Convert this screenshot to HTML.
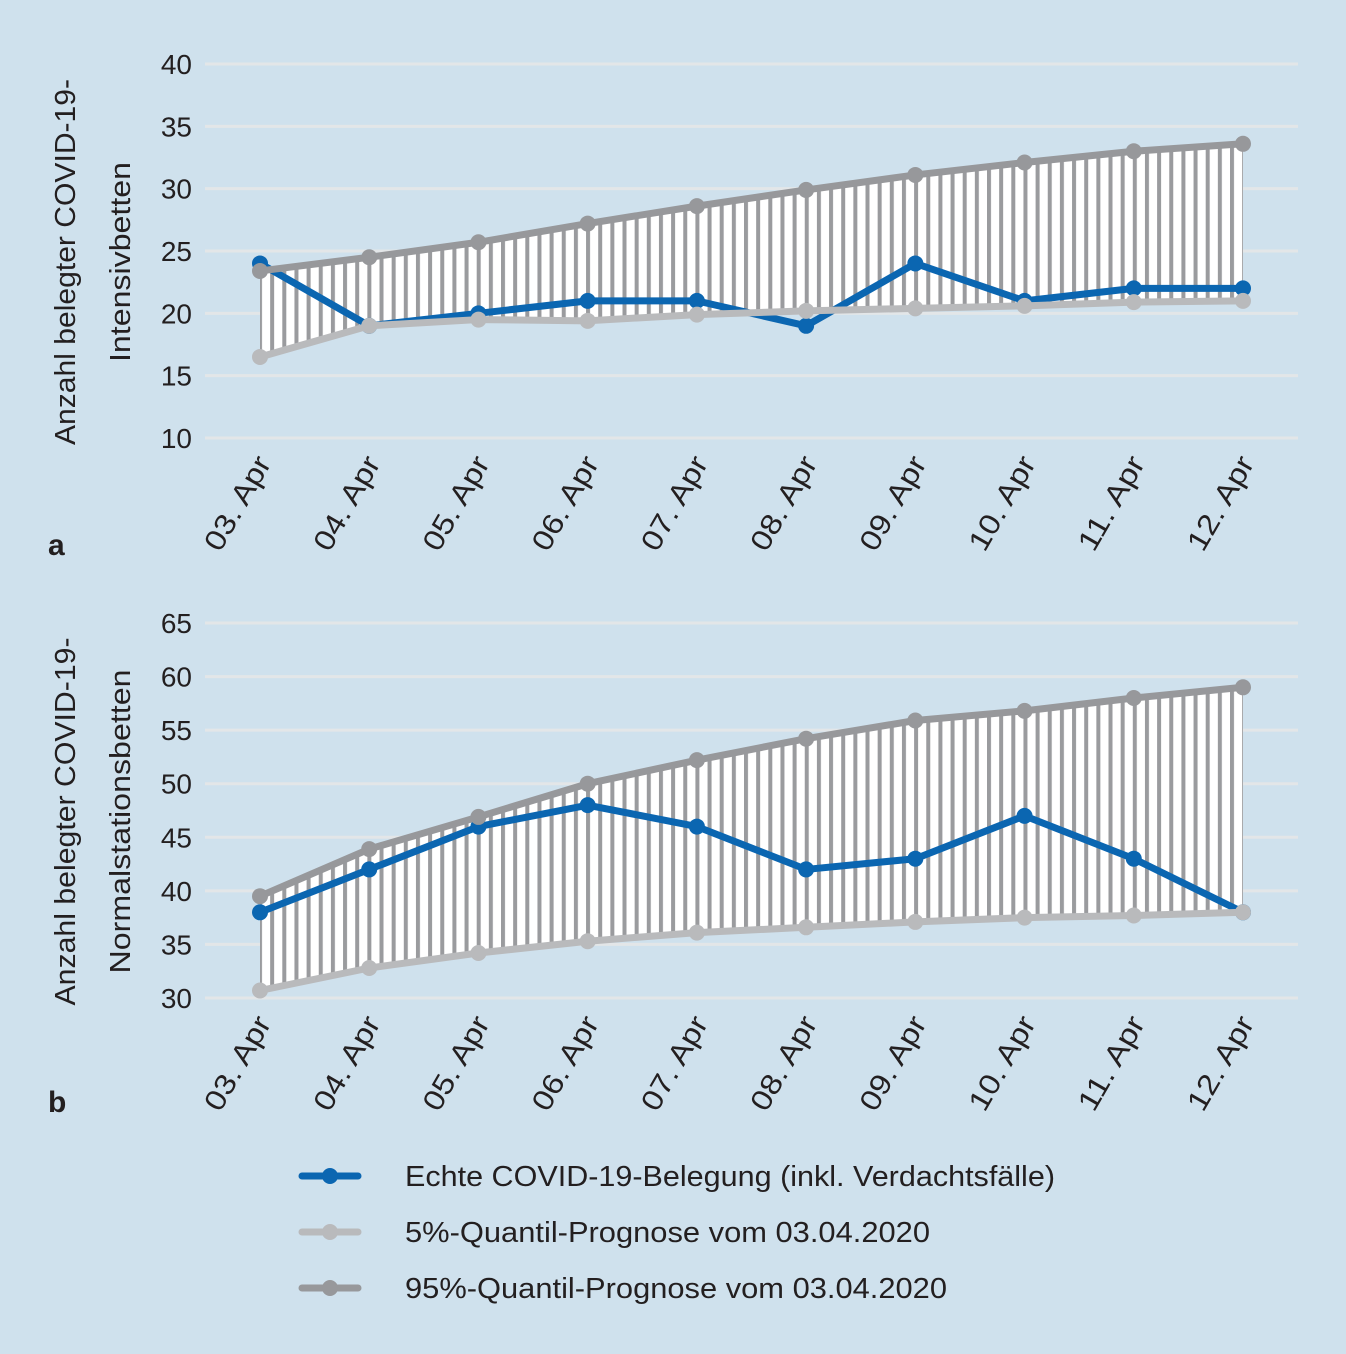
<!DOCTYPE html>
<html><head><meta charset="utf-8"><style>
html,body{margin:0;padding:0;background:#cfe1ed;}
svg{display:block;font-family:"Liberation Sans",sans-serif;}
</style></head><body>
<svg id="c" width="1346" height="1354" viewBox="0 0 1346 1354">
<defs>
<pattern id="hatch" patternUnits="userSpaceOnUse" width="12.15" height="10" x="258">
<rect x="0" y="0" width="12.15" height="10" fill="#ffffff"/>
<rect x="0" y="0" width="4" height="10" fill="#9a9b9e"/>
</pattern>
</defs>
</svg>
<script>
const dates=["03. Apr","04. Apr","05. Apr","06. Apr","07. Apr","08. Apr","09. Apr","10. Apr","11. Apr","12. Apr"];
const aActual=[24,19,20,21,21,19,24,21,22,22];
const aLow=[16.5,19,19.5,19.4,19.9,20.2,20.4,20.6,20.9,21];
const aHigh=[23.4,24.5,25.7,27.2,28.6,29.9,31.1,32.1,33.0,33.6];
const aTicks=[10,15,20,25,30,35,40];
const bActual=[38,42,46,48,46,42,43,47,43,38];
const bLow=[30.7,32.8,34.2,35.3,36.1,36.6,37.1,37.5,37.7,38];
const bHigh=[39.5,43.9,46.9,50,52.2,54.2,55.9,56.8,58,59];
const bTicks=[30,35,40,45,50,55,60,65];
const legendLabels=["Echte COVID-19-Belegung (inkl. Verdachtsfälle)","5%-Quantil-Prognose vom 03.04.2020","95%-Quantil-Prognose vom 03.04.2020"];
const legendLens=[650,525,542];
const BLUE="#0b66b1",LIGHT="#b9babc",DARK="#97989b";
const svg=document.getElementById('c');
const NS="http://www.w3.org/2000/svg";
function mk(t,a,p){const e=document.createElementNS(NS,t);for(const k in a)e.setAttribute(k,a[k]);(p||svg).appendChild(e);return e;}
function x(i){return 260+i*(1243-260)/(dates.length-1);}
function panel(key,actual,low,high,ticks,yTop,yBot,label1,label2,len1,len2,letter,letterY){
  const g=mk('g',{});
  
  
  const mn=ticks[0],mxv=ticks[ticks.length-1];
  const y=v=>yBot-(v-mn)/(mxv-mn)*(yBot-yTop);
  ticks.forEach(t=>{
    const l=mk('line',{x1:205,x2:1298,y1:y(t),y2:y(t),stroke:"#e3e6e8","stroke-width":3},g);
    
    
    const tx=mk('text',{x:192,y:y(t)+10,"text-anchor":"end","font-size":28,fill:"#231f20"},g);
    tx.textContent=t;
    
    
  });
  dates.forEach((d,i)=>{
    const tx=mk('text',{transform:`translate(${x(i)+12},${yBot+25}) rotate(-60)`,"text-anchor":"end","font-size":29,fill:"#231f20",textLength:104,lengthAdjust:"spacingAndGlyphs"},g);
    tx.textContent=d;
    
    
  });
  let pts=high.map((v,i)=>x(i)+','+y(v)).concat(low.map((v,i)=>x(i)+','+y(v)).reverse());
  const band=mk('polygon',{points:pts.join(' '),fill:"url(#hatch)"},g);
  
  
  [[actual,BLUE,'actual'],[low,LIGHT,'low'],[high,DARK,'high']].forEach(([arr,c,n])=>{
    const pl=mk('polyline',{points:arr.map((v,i)=>x(i)+','+y(v)).join(' '),fill:"none",stroke:c,"stroke-width":7,"stroke-linejoin":"round"},g);
    
    
    arr.forEach((v,i)=>{
      const ci=mk('circle',{cx:x(i),cy:y(v),r:8,fill:c},g);
      
      
    });
  });
  const cy=(yTop+yBot)/2+11;
  const t1=mk('text',{transform:`translate(75,${cy}) rotate(-90)`,"text-anchor":"middle","font-size":29,fill:"#231f20",textLength:len1,lengthAdjust:"spacingAndGlyphs"},g);
  t1.textContent=label1;
  
  
  const t2=mk('text',{transform:`translate(130,${cy}) rotate(-90)`,"text-anchor":"middle","font-size":29,fill:"#231f20",textLength:len2,lengthAdjust:"spacingAndGlyphs"},g);
  t2.textContent=label2;
  
  
  const lt=mk('text',{x:48,y:letterY,"font-size":30,"font-weight":"bold",fill:"#231f20"},g);
  lt.textContent=letter;
  
  
}
panel('a',aActual,aLow,aHigh,aTicks,64,438,"Anzahl belegter COVID-19-","Intensivbetten",366,200,"a",555);
panel('b',bActual,bLow,bHigh,bTicks,623,998,"Anzahl belegter COVID-19-","Normalstationsbetten",368,304,"b",1112);
const lg=mk('g',{});


[BLUE,LIGHT,DARK].forEach((c,i)=>{
  const yy=1176+i*56;
  const l=mk('line',{x1:302,x2:358,y1:yy,y2:yy,stroke:c,"stroke-width":7,"stroke-linecap":"round"},lg);
  
  
  mk('circle',{cx:330,cy:yy,r:8,fill:c},lg);
  const t=mk('text',{x:405,y:yy+10,"font-size":29,fill:"#231f20",textLength:legendLens[i],lengthAdjust:"spacingAndGlyphs"},lg);
  t.textContent=legendLabels[i];
  
  
});
</script>
</body></html>
